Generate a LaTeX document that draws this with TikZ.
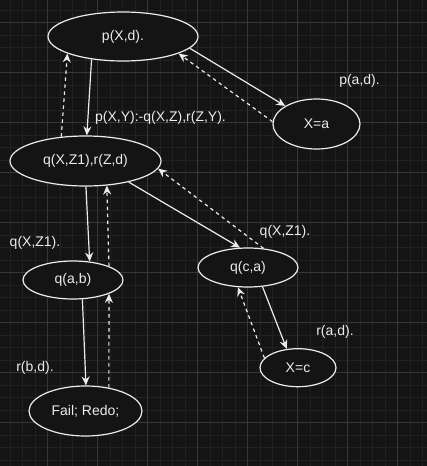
\documentclass[tikz,border=0pt]{standalone}
\usepackage{fontspec}
\setmainfont{Liberation Sans}
\usetikzlibrary{shapes.geometric,arrows.meta}
\definecolor{bgc}{RGB}{20,20,20}
\definecolor{gminor}{RGB}{33,33,33}
\definecolor{gmajor}{RGB}{55,55,55}
\definecolor{fg}{RGB}{236,236,236}
\begin{document}
\begin{tikzpicture}[x=1pt,y=-1pt,
  state/.style={ellipse,draw=fg,fill=bgc,line width=1.2pt,inner sep=0pt,text=fg,font=\fontsize{14}{16}\selectfont},
  lbl/.style={text=fg,font=\fontsize{14}{16}\selectfont,inner sep=0pt},
  go/.style={draw=fg,line width=1.2pt,-{Stealth[length=9pt,width=8pt,inset=3pt]}},
  back/.style={go,dash pattern=on 3.5pt off 3.5pt}]
\fill[bgc] (0,0) rectangle (427,466);
\useasboundingbox (0,0) rectangle (427,466);
% grid
\foreach \i in {0,...,33} {
  \pgfmathsetmacro{\gx}{10+12.5*\i}
  \draw[gminor,line width=0.8pt] (\gx,0) -- (\gx,466);
}
\foreach \i in {0,...,36} {
  \pgfmathsetmacro{\gy}{10+12.5*\i}
  \draw[gminor,line width=0.8pt] (0,\gy) -- (427,\gy);
}
\foreach \i in {0,...,7} {
  \pgfmathsetmacro{\gx}{47.5+50*\i}
  \draw[gmajor,line width=0.9pt] (\gx,0) -- (\gx,466);
}
\foreach \i in {0,...,8} {
  \pgfmathsetmacro{\gy}{22.5+50*\i}
  \draw[gmajor,line width=0.9pt] (0,\gy) -- (427,\gy);
}
% nodes
\node[state,minimum width=150pt,minimum height=49pt] (p) at (123,36.5) {p(X,d).};
\node[state,minimum width=87pt,minimum height=50pt] (xa) at (316.5,124) {X=a};
\node[state,minimum width=151pt,minimum height=50pt] (q) at (85.5,161) {q(X,Z1),r(Z,d)};
\node[state,minimum width=100pt,minimum height=38pt] (qab) at (73,280) {q(a,b)};
\node[state,minimum width=100pt,minimum height=39pt] (qca) at (248,267.5) {q(c,a)};
\node[state,minimum width=76pt,minimum height=38pt] (xc) at (298,367.7) {X=c};
\node[state,minimum width=113pt,minimum height=50pt] (fail) at (85.5,411) {Fail; Redo;};
% labels
\node[lbl] (l1) at (160.5,118) {p(X,Y):-q(X,Z),r(Z,Y).};
\node[lbl] (l2) at (359.5,81) {p(a,d).};
\node[lbl] (l3) at (35,243) {q(X,Z1).};
\node[lbl] (l4) at (285,232) {q(X,Z1).};
\node[lbl] (l5) at (335,332) {r(a,d).};
\node[lbl] (l6) at (35,368) {r(b,d).};
% edges
\draw[go] (p.-144) -- (q.87);
\draw[back] (q.135) -- (p.-163);
\draw[go] (p.-10) -- (xa.150);
\draw[back] (xa.177) -- (p.-17.5);
\draw[go] (q.-26) -- (qca.112.6);
\draw[back] (qca.51) -- (q.-6.5);
\draw[go] (q.-89) -- (qab.48.4);
\draw[back] (qab.21) -- (q.-49.6);
\draw[go] (qab.-64) -- (fail.89);
\draw[back] (fail.45.5) -- (qab.-21);
\draw[go] (qca.-53) -- (xc.121);
\draw[back] (xc.164) -- (qca.-117.6);
\end{tikzpicture}
\end{document}
